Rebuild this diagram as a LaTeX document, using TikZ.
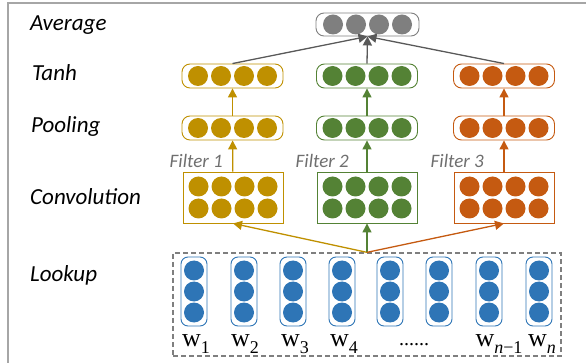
\documentclass[tikz,border=0pt]{standalone}
\usepackage[no-math]{fontspec}
\setmainfont{Carlito}
\newfontfamily\wfont{Liberation Serif}
\usetikzlibrary{arrows.meta, positioning}

\definecolor{gold}{HTML}{BF9000}
\definecolor{leaf}{HTML}{548235}
\definecolor{rust}{HTML}{C55A11}
\definecolor{wblue}{HTML}{2E75B6}
\definecolor{avggray}{HTML}{7F7F7F}
\definecolor{arrowgray}{HTML}{595959}
\definecolor{framegray}{HTML}{A6A6A6}
\definecolor{filtergray}{HTML}{6F6F6F}

\newcommand{\wsub}[1]{w\raisebox{-0.3em}{\fontsize{18}{19}\selectfont #1}}

\begin{document}
\begin{tikzpicture}[
  x=1pt, y=-1pt,
  font=\fontsize{23}{27}\selectfont\itshape,
  layer/.style={draw, rounded corners=8pt, line width=0.9pt, inner sep=0pt, minimum width=101pt, minimum height=24pt},
  convbox/.style={draw, line width=0.9pt, inner sep=0pt, minimum width=100pt, minimum height=51pt},
  wordbox/.style={draw=wblue, rounded corners=7pt, line width=0.9pt, inner sep=0pt, minimum width=26pt, minimum height=69pt},
  lookupbox/.style={draw=avggray, dash pattern=on 5pt off 3pt, line width=1.3pt, inner sep=0pt, minimum width=388pt, minimum height=103pt},
  stagelabel/.style={anchor=base west, inner sep=0pt},
  filterlabel/.style={anchor=east, inner sep=0pt, text=filtergray, font=\fontsize{19}{22}\selectfont\itshape},
  wordlabel/.style={anchor=base, inner sep=0pt, font=\fontsize{26}{30}\selectfont\wfont},
  line/.style={-{Triangle[length=9pt,width=9pt]}, line width=1.3pt}
]
\useasboundingbox (0,0) rectangle (586,363);

% Frame (left and top edges)
\draw[framegray, line width=1.5pt] (8,363) -- (8,3) -- (586,3);

% Stage names
\node[stagelabel] (lblavg) at (30,31) {Average};
\node[stagelabel] (lbltanh) at (32,81) {Tanh};
\node[stagelabel] (lblpool) at (31,133) {Pooling};
\node[stagelabel] (lblconv) at (30,205) {Convolution};
\node[stagelabel] (lbllook) at (30,281) {Lookup};

% Average
\node[layer, draw=avggray, minimum width=103pt, minimum height=23pt] (avg) at (367.5,24.5) {};

% Tanh
\node[layer, draw=gold] (tanhA) at (232.5,76) {};
\node[layer, draw=leaf] (tanhB) at (367,76) {};
\node[layer, draw=rust] (tanhC) at (504,76) {};

% Pooling
\node[layer, draw=gold] (poolA) at (232.5,128) {};
\node[layer, draw=leaf] (poolB) at (367,128) {};
\node[layer, draw=rust] (poolC) at (504,128) {};

% Convolution
\node[convbox, draw=gold] (convA) at (233,197.5) {};
\node[convbox, draw=leaf] (convB) at (367,197.5) {};
\node[convbox, draw=rust] (convC) at (504,197.5) {};

% Lookup
\node[lookupbox] (lookup) at (367,304.5) {};
\foreach \i/\x in {1/194,2/244,3/293,4/342,5/390,6/439,7/489,8/539}
  \node[wordbox] (w\i) at (\x,291.5) {};

% Units
\foreach \b/\c in {avg/avggray, tanhA/gold, tanhB/leaf, tanhC/rust, poolA/gold, poolB/leaf, poolC/rust}
  \foreach \dx in {-34.5,-11.5,11.5,34.5}
    \fill[\c] (\b) ++(\dx,0) circle (10pt);
\foreach \b/\c in {convA/gold, convB/leaf, convC/rust}
  \foreach \dx in {-34.5,-11.5,11.5,34.5}
    \foreach \dy in {-11,11}
      \fill[\c] (\b) ++(\dx,\dy) circle (10pt);
\foreach \i in {1,...,8}
  \foreach \dy in {-21,0,21}
    \fill[wblue] (w\i) ++(0,\dy) circle (10pt);

% Words
\node[wordlabel] (t1) at (196,346) {\wsub{1}};
\node[wordlabel] (t2) at (245,346) {\wsub{2}};
\node[wordlabel] (t3) at (295,346) {\wsub{3}};
\node[wordlabel] (t4) at (344,346) {\wsub{4}};
\node[wordlabel, font=\fontsize{20}{22}\selectfont\wfont] (tdots) at (414,345) {......};
\node[wordlabel] (t7) at (499,346) {\wsub{\textit{n}−1}};
\node[wordlabel] (t8) at (542,346) {\wsub{\textit{n}}};

% Filters
\node[filterlabel] (f1) at (223,161) {Filter 1};
\node[filterlabel] (f2) at (349,161) {Filter 2};
\node[filterlabel] (f3) at (484,161) {Filter 3};

% Connections
\draw[line, gold] (lookup.north) -- (convA.south);
\draw[line, leaf] (lookup.north) -- (convB.south);
\draw[line, rust] (lookup.north) -- (convC.south);
\draw[line, gold] (convA) -- (poolA);
\draw[line, leaf] (convB) -- (poolB);
\draw[line, rust] (convC) -- (poolC);
\draw[line, gold] (poolA) -- (tanhA);
\draw[line, leaf] (poolB) -- (tanhB);
\draw[line, rust] (poolC) -- (tanhC);
\draw[line, arrowgray] (tanhA.north) -- (avg.south);
\draw[line, arrowgray] (tanhB.north) -- (avg.south);
\draw[line, arrowgray] (tanhC.north) -- (avg.south);

\end{tikzpicture}
\end{document}
